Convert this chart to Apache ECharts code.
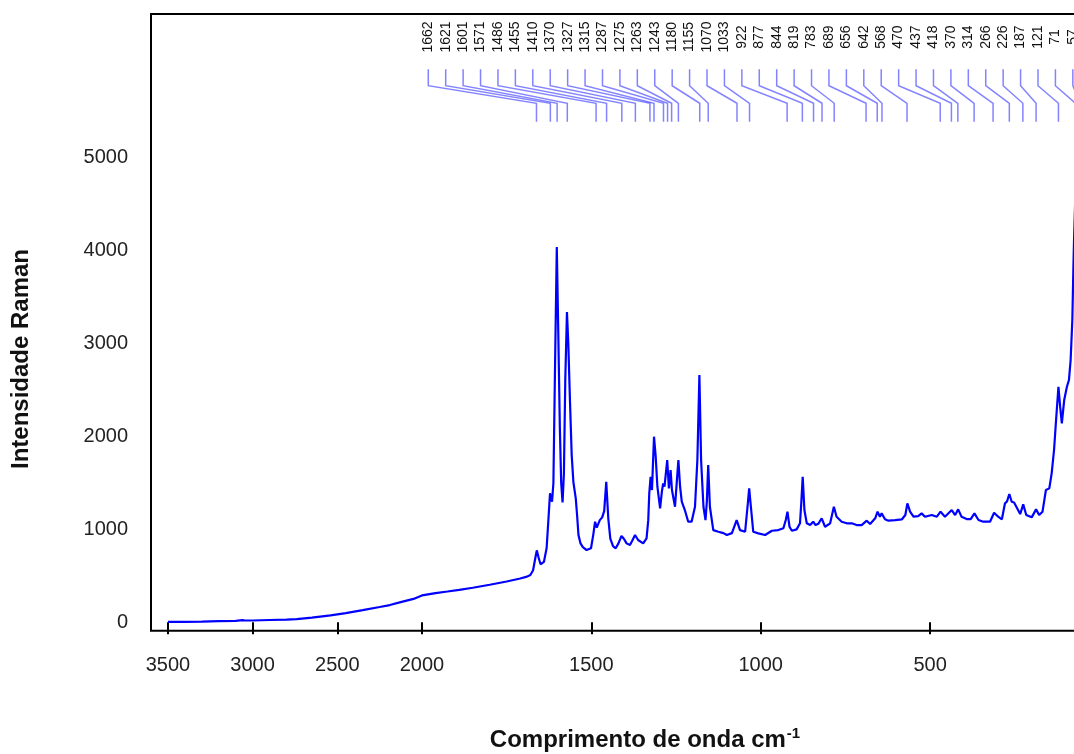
<!DOCTYPE html>
<html>
<head>
<meta charset="utf-8">
<title>Espectro Raman</title>
<script src="https://cdn.jsdelivr.net/npm/echarts@6/dist/echarts.min.js"></script>
<style>
  html, body { margin: 0; padding: 0; background: #fff; }
  #chart { width: 1074px; height: 754px; }
</style>
</head>
<body>
<div id="chart"></div>
<script>
// Raman shift (cm-1), descending, and measured intensity at each shift
const wavenumber = [
  3500, 3400, 3300, 3200, 3100, 3060, 3045, 3000, 2900, 2800,
  2740, 2650, 2540, 2450, 2350, 2250, 2190, 2120, 2050, 2000,
  1960, 1925, 1890, 1850, 1800, 1750, 1710, 1690, 1680, 1672,
  1665, 1661, 1656, 1650, 1646, 1640, 1632, 1626, 1622, 1619,
  1616, 1612, 1607, 1602, 1598, 1593, 1589, 1585, 1581, 1577,
  1572, 1568, 1563, 1558, 1553, 1546, 1542, 1538, 1532, 1525,
  1514, 1501, 1494, 1489, 1484, 1481, 1475, 1468, 1462, 1456,
  1450, 1444, 1436, 1428, 1420, 1411, 1404, 1396, 1386, 1379,
  1371, 1362, 1347, 1337, 1332, 1329, 1325, 1321, 1315, 1310,
  1305, 1297, 1292, 1288, 1284, 1276, 1271, 1266, 1262, 1253,
  1247, 1243, 1238, 1233, 1224, 1214, 1204, 1194, 1187, 1181,
  1176, 1169, 1163, 1159, 1155, 1150, 1140, 1125, 1110, 1100,
  1085, 1071, 1061, 1046, 1038, 1034, 1029, 1022, 1007, 987,
  967, 948, 933, 926, 921, 915, 908, 894, 884, 880,
  876, 871, 864, 854, 845, 838, 830, 820, 810, 795,
  784, 776, 761, 746, 731, 717, 702, 687, 677, 662,
  655, 648, 643, 633, 623, 603, 583, 573, 567, 559,
  549, 535, 525, 515, 495, 480, 469, 456, 436, 426,
  417, 407, 392, 380, 369, 357, 343, 323, 311, 299,
  288, 279, 273, 266, 259, 252, 234, 225, 216, 200,
  187, 178, 168, 158, 148, 141, 134, 128, 121, 116,
  111, 104, 96, 90, 85, 80, 77, 75, 71, 65
];
const intensity = [
  5, 6, 8, 12, 16, 24, 20, 20, 25, 30,
  35, 50, 75, 100, 132, 165, 186, 220, 252, 290,
  315, 332, 350, 372, 405, 440, 472, 492, 510, 560,
  700, 775, 700, 625, 615, 650, 800, 1150, 1390, 1330,
  1300, 1500, 2800, 4040, 3200, 2100, 1500, 1290, 1600, 2600,
  3340, 3000, 2370, 1800, 1510, 1335, 1150, 940, 850, 810,
  778, 797, 950, 1083, 1020, 1010, 1100, 1130, 1200, 1513,
  1120, 900, 820, 797, 850, 930, 900, 850, 832, 880,
  940, 886, 850, 904, 1100, 1389, 1567, 1424, 1998, 1783,
  1460, 1227, 1400, 1496, 1460, 1747, 1442, 1639, 1424, 1244,
  1550, 1747, 1460, 1300, 1209, 1083, 1083, 1244, 1747, 2662,
  1747, 1244, 1101, 1300, 1693, 1244, 993, 975, 960, 940,
  960, 1101, 993, 975, 1280, 1442, 1244, 975, 958, 940,
  986, 993, 1012, 1101, 1191, 1029, 986, 1001, 1066, 1300,
  1567, 1209, 1066, 1047, 1083, 1047, 1060, 1120, 1029, 1066,
  1244, 1137, 1083, 1066, 1066, 1047, 1047, 1094, 1058, 1120,
  1191, 1137, 1173, 1109, 1094, 1101, 1109, 1155, 1280, 1191,
  1137, 1144, 1173, 1137, 1155, 1137, 1191, 1137, 1209, 1155,
  1216, 1137, 1112, 1112, 1173, 1101, 1083, 1083, 1180, 1137,
  1109, 1280, 1300, 1381, 1298, 1290, 1165, 1270, 1155, 1130,
  1216, 1155, 1191, 1424, 1442, 1604, 1855, 2178, 2536, 2321,
  2142, 2393, 2536, 2608, 2824, 3254, 3792, 4115, 4600, 4900
];

// Assigned band positions (cm-1), annotated above the spectrum
const peakLabels = [
  1662, 1621, 1601, 1571, 1486, 1455, 1410, 1370, 1327, 1315,
  1287, 1275, 1263, 1243, 1180, 1155, 1070, 1033, 922, 877,
  844, 819, 783, 689, 656, 642, 568, 470, 437, 418,
  370, 314, 266, 226, 187, 121, 71, 57
];

const xTickValues = [3500, 3000, 2500, 2000, 1500, 1000, 500];
const yTickValues = [0, 1000, 2000, 3000, 4000, 5000];

// Above 2000 cm-1 the axis runs at half scale.
const AXIS_BREAK = 2000;
const toAxis = w => (w > AXIS_BREAK ? AXIS_BREAK + (w - AXIS_BREAK) / 2 : w);
const fromAxis = u => (u > AXIS_BREAK ? AXIS_BREAK + (u - AXIS_BREAK) * 2 : u);

const spectrum = wavenumber.map((w, i) => [toAxis(w), intensity[i]]);

// Leader geometry for the band annotations (axis units)
const LABEL_START = 1981.4;   // position of the first annotation
const LABEL_STEP = 51.43;     // even spacing between annotations
const LEADER = { bottom: 5389, elbowLow: 5587, elbowHigh: 5776, top: 5953, text: 6300 };

const FONT = '"Liberation Sans", Arial, Helvetica, sans-serif';

const chart = echarts.init(document.getElementById('chart'), null, { renderer: 'canvas' });

chart.setOption({
  animation: false,
  backgroundColor: '#fff',
  grid: {
    left: 151,
    right: -65.4,
    top: 14,
    bottom: 123.3,
    show: true,
    borderColor: '#000',
    borderWidth: 2,
    containLabel: false,
    outerBoundsMode: 'none'
  },
  xAxis: {
    type: 'value',
    inverse: true,
    min: -118,
    max: toAxis(3600),
    axisLine: { show: false },
    splitLine: { show: false },
    axisTick: {
      show: true,
      customValues: xTickValues.map(toAxis),
      length: 12,
      lineStyle: { color: '#000', width: 2 }
    },
    axisLabel: {
      customValues: xTickValues.map(toAxis),
      formatter: v => String(Math.round(fromAxis(v))),
      fontFamily: FONT,
      fontSize: 20,
      color: '#222',
      margin: 25
    }
  },
  yAxis: {
    type: 'value',
    min: -90,
    max: 6548,
    axisLine: { show: false },
    splitLine: { show: false },
    axisTick: {
      show: true,
      customValues: yTickValues,
      length: 12,
      lineStyle: { color: '#000', width: 2 }
    },
    axisLabel: {
      customValues: yTickValues,
      formatter: v => String(v),
      fontFamily: FONT,
      fontSize: 20,
      color: '#222',
      margin: 23
    }
  },
  series: [
    {
      name: 'Espectro',
      type: 'line',
      data: spectrum,
      showSymbol: false,
      silent: true,
      lineStyle: { color: '#0000ff', width: 2.2 }
    },
    {
      name: 'Bandas',
      type: 'custom',
      silent: true,
      data: peakLabels.map(p => [toAxis(p), LEADER.bottom]),
      renderItem: function (params, api) {
        const i = params.dataIndex;
        const peakU = api.value(0);
        const labelU = LABEL_START - i * LABEL_STEP;
        const pBottom = api.coord([peakU, LEADER.bottom]);
        const pLow = api.coord([peakU, LEADER.elbowLow]);
        const pHigh = api.coord([labelU, LEADER.elbowHigh]);
        const pTop = api.coord([labelU, LEADER.top]);
        const pText = api.coord([labelU, LEADER.text]);
        return {
          type: 'group',
          children: [
            {
              type: 'polyline',
              shape: { points: [pTop, pHigh, pLow, pBottom] },
              style: { stroke: 'rgba(30,30,255,0.55)', lineWidth: 1.5, fill: null }
            },
            {
              type: 'text',
              x: pText[0],
              y: pText[1],
              rotation: Math.PI / 2,
              style: {
                text: String(peakLabels[i]),
                font: '14px ' + FONT,
                fill: '#111',
                align: 'center',
                verticalAlign: 'middle'
              }
            }
          ]
        };
      }
    }
  ],
  graphic: [
    {
      type: 'text',
      x: 21,
      y: 359,
      rotation: Math.PI / 2,
      style: {
        text: 'Intensidade Raman',
        font: 'bold 24px ' + FONT,
        fill: '#111',
        align: 'center',
        verticalAlign: 'middle'
      }
    },
    {
      type: 'text',
      x: 645,
      y: 740,
      style: {
        text: '{m|Comprimento de onda cm}{s|-1}',
        align: 'center',
        verticalAlign: 'middle',
        rich: {
          m: { font: 'bold 24px ' + FONT, fill: '#111', lineHeight: 28 },
          s: { font: 'bold 15px ' + FONT, fill: '#111', verticalAlign: 'top', lineHeight: 28, padding: [0, 0, 10, 1] }
        }
      }
    }
  ]
});
</script>
</body>
</html>
